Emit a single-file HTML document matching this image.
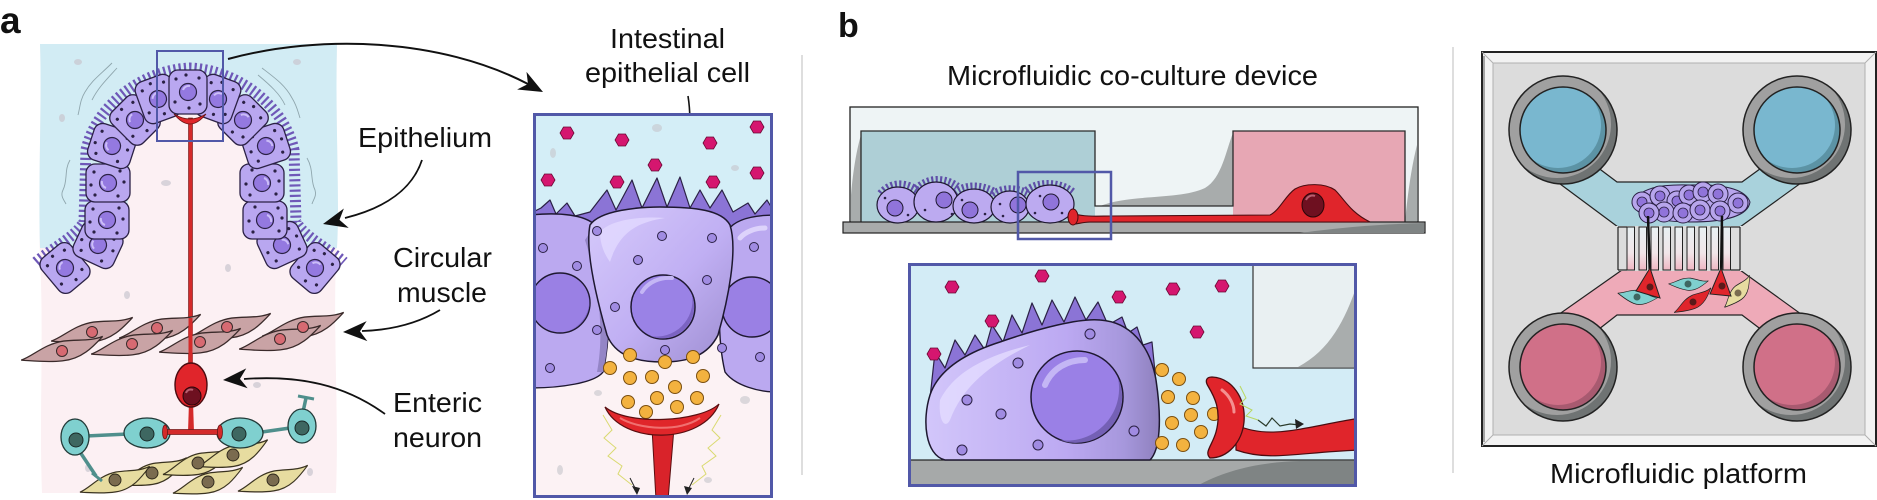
<!DOCTYPE html>
<html><head><meta charset="utf-8"><style>
html,body{margin:0;padding:0;background:#fff;width:1877px;height:500px;overflow:hidden}
svg{display:block}
text{font-family:"Liberation Sans",Arial,sans-serif;fill:#111}
</style></head><body>
<svg width="1877" height="500" viewBox="0 0 1877 500" xmlns="http://www.w3.org/2000/svg">
<defs>
 <path id="spindle" d="M -42,7 C -30,4 -18,-7 2,-9 C 18,-10 30,-8 42,-12 C 32,-3 20,8 0,9 C -16,10 -30,8 -42,7 Z"/>
 <path id="ah" d="M 0,0 L -24,-10 L -17,0 L -24,10 Z"/>
 <polygon id="hex" points="7,0 3.5,6 -3.5,6 -7,0 -3.5,-6 3.5,-6" fill="#d5166f" stroke="#6a0a35" stroke-width="0.8"/>
 <circle id="odot" r="6.5" fill="#f3b23f" stroke="#7a4f10" stroke-width="1"/>
 <g id="ecell">
  <rect x="-19" y="-22" width="38" height="44" rx="9" fill="#b9a7f0" stroke="#2b2145" stroke-width="1.3"/>
  <circle r="8.5" fill="#9479e0" stroke="#2b2145" stroke-width="1.2"/>
  <path d="M -5,-2 A 6 6 0 0 1 2,-6" stroke="#cbbdf8" stroke-width="2" fill="none"/>
  <g fill="#2b2145"><circle cx="-12" cy="-13" r="1.6"/><circle cx="11" cy="-14" r="1.6"/><circle cx="-13" cy="10" r="1.6"/><circle cx="12" cy="12" r="1.6"/><circle cx="1" cy="16" r="1.6"/><circle cx="-2" cy="-17" r="1.6"/></g>
 </g>
 <g id="pcell"><circle r="10" fill="#b7a5ec" stroke="#2b2145" stroke-width="1"/><circle r="5" fill="#9074da" stroke="#2b2145" stroke-width="0.8"/></g>
 <clipPath id="clipA"><rect x="533" y="113" width="240" height="385"/></clipPath>
 <clipPath id="clipB"><rect x="908" y="263" width="449" height="224"/></clipPath>
 <clipPath id="wc"><circle r="54"/></clipPath>
 <clipPath id="wi"><circle r="43"/></clipPath>
 <linearGradient id="cellB" x1="0" y1="0" x2="1" y2="0">
  <stop offset="0" stop-color="#d2c6fa"/><stop offset="0.6" stop-color="#bca9f2"/><stop offset="0.85" stop-color="#a697dc"/><stop offset="1" stop-color="#8e80bd"/>
 </linearGradient>
 <linearGradient id="cellA" x1="0" y1="0" x2="1" y2="1">
  <stop offset="0" stop-color="#d6cafb"/><stop offset="0.55" stop-color="#c0aff3"/><stop offset="1" stop-color="#9d8dd0"/>
 </linearGradient>
 <linearGradient id="slot" x1="0" y1="0" x2="0" y2="1">
  <stop offset="0" stop-color="#e8f1f3"/><stop offset="0.6" stop-color="#f1e6e9"/><stop offset="1" stop-color="#efb7c3"/>
 </linearGradient>
</defs>

<!-- ================= PANEL A ================= -->
<text x="0" y="33" font-size="37" font-weight="bold">a</text>

<path d="M 40,44 L 337,44 C 335,120 340,200 336,260 C 333,330 339,420 336,493 L 42,493 C 39,420 44,330 40,260 C 38,180 42,100 40,44 Z" fill="#fcf0f3"/>
<path d="M 40,44 L 337,44 C 335,120 340,200 337,248 L 40,248 C 38,180 42,100 40,44 Z" fill="#d2ecf4"/>
<path d="M 70,282 C 105,262 125,240 128,200 L 130,150 C 135,124 160,112 190,112 C 220,112 245,124 250,150 L 252,200 C 255,240 275,262 310,282 Z" fill="#fcf0f3"/>

<g fill="#c9c6cf" opacity="0.7">
 <ellipse cx="78" cy="62" rx="4" ry="3"/><ellipse cx="297" cy="62" rx="4" ry="3"/><ellipse cx="62" cy="118" rx="3" ry="4"/>
 <ellipse cx="166" cy="183" rx="5" ry="3"/><ellipse cx="228" cy="268" rx="3" ry="4"/><ellipse cx="127" cy="295" rx="3" ry="4"/>
 <ellipse cx="88" cy="468" rx="3" ry="4"/><ellipse cx="310" cy="472" rx="3" ry="4"/><ellipse cx="257" cy="385" rx="4" ry="3"/>
</g>
<g fill="none" stroke="#8fa6ad" stroke-width="0.9">
 <path d="M 112,63 C 100,75 92,80 85,92 C 80,100 80,108 78,115"/><path d="M 117,68 C 106,80 98,88 92,100"/>
 <path d="M 262,68 C 275,78 285,85 292,98 C 297,106 298,112 300,118"/><path d="M 258,75 C 270,85 280,94 285,105"/>
 <path d="M 70,160 C 64,170 68,180 63,190 C 60,196 64,200 66,204"/>
 <path d="M 307,158 C 314,170 310,180 315,190 C 317,196 313,200 312,204"/>
</g>

<!-- epithelial arch spikes -->
<path d="M 36,262 C 52,248 74,238 84,222 L 86,150 C 95,108 140,70 190,68 C 240,70 285,108 294,150 L 296,222 C 306,238 328,248 344,262" stroke="#6f58b8" stroke-width="11" stroke-dasharray="2.2 3" fill="none"/>

<use href="#ecell" transform="translate(65,268) rotate(-40)"/>
<use href="#ecell" transform="translate(315,268) rotate(40)"/>
<use href="#ecell" transform="translate(98,245) rotate(-65)"/>
<use href="#ecell" transform="translate(282,245) rotate(65)"/>
<use href="#ecell" transform="translate(107,220) rotate(-90)"/>
<use href="#ecell" transform="translate(265,220) rotate(90)"/>
<use href="#ecell" transform="translate(108,183) rotate(-90)"/>
<use href="#ecell" transform="translate(262,183) rotate(90)"/>
<use href="#ecell" transform="translate(112,146) rotate(-72)"/>
<use href="#ecell" transform="translate(266,146) rotate(72)"/>
<use href="#ecell" transform="translate(135,120) rotate(-45)"/>
<use href="#ecell" transform="translate(243,120) rotate(45)"/>
<use href="#ecell" transform="translate(158,99) rotate(-20)"/>
<use href="#ecell" transform="translate(218,99) rotate(20)"/>
<use href="#ecell" transform="translate(188,92)"/>

<rect x="188.5" y="118" width="4" height="255" fill="#d42a2a" stroke="#6a1515" stroke-width="0.6"/>
<path d="M 174,114 Q 190,134 206,114 Q 190,124 174,114 Z" fill="#e0262a" stroke="#6a1515" stroke-width="0.8"/>

<!-- muscle layer -->
<g fill="#c9a3a5" stroke="#3a2a2a" stroke-width="1.2">
 <use href="#spindle" transform="translate(92,332) rotate(-2) scale(0.98,1.1)"/>
 <use href="#spindle" transform="translate(160,329) rotate(-2) scale(0.98,1.1)"/>
 <use href="#spindle" transform="translate(230,328) rotate(-2) scale(0.98,1.1)"/>
 <use href="#spindle" transform="translate(303,327) rotate(-2) scale(0.98,1.1)"/>
 <use href="#spindle" transform="translate(62,351) rotate(-2) scale(0.98,1.1)"/>
 <use href="#spindle" transform="translate(132,345) rotate(-2) scale(0.98,1.1)"/>
 <use href="#spindle" transform="translate(200,343) rotate(-2) scale(0.98,1.1)"/>
 <use href="#spindle" transform="translate(280,340) rotate(-2) scale(0.98,1.1)"/>
</g>
<g fill="#d76a72" stroke="#3a2a2a" stroke-width="1">
 <circle cx="92" cy="332" r="5.5"/><circle cx="157" cy="328" r="5.5"/><circle cx="227" cy="327" r="5.5"/><circle cx="303" cy="327" r="5.5"/>
 <circle cx="62" cy="351" r="5.5"/><circle cx="132" cy="344" r="5.5"/><circle cx="200" cy="342" r="5.5"/><circle cx="280" cy="339" r="5.5"/>
</g>
<rect x="188.5" y="318" width="4" height="50" fill="#d42a2a"/>

<!-- yellow cells -->
<g fill="#e7dca0" stroke="#3a3320" stroke-width="1.1">
 <use href="#spindle" transform="translate(152,474) rotate(-4) scale(0.85,1.15)"/>
 <use href="#spindle" transform="translate(198,464) rotate(-4) scale(0.85,1.15)"/>
 <use href="#spindle" transform="translate(233,456) rotate(-4) scale(0.85,1.15)"/>
 <use href="#spindle" transform="translate(115,482) rotate(-4) scale(0.85,1.1)"/>
 <use href="#spindle" transform="translate(208,483) rotate(-4) scale(0.85,1.1)"/>
 <use href="#spindle" transform="translate(273,481) rotate(-4) scale(0.85,1.1)"/>
</g>
<g fill="#7a6b4f" stroke="#2a2418" stroke-width="0.9">
 <circle cx="152" cy="473" r="6"/><circle cx="198" cy="463" r="6"/><circle cx="233" cy="455" r="6"/><circle cx="115" cy="480" r="6"/><circle cx="208" cy="482" r="6"/><circle cx="273" cy="480" r="6"/>
</g>

<!-- teal glia -->
<g stroke="#2d5553" stroke-width="1">
 <path d="M 86,436 L 128,434" stroke="#4f8f8c" stroke-width="3.5"/>
 <path d="M 80,452 L 96,476" stroke="#4f8f8c" stroke-width="3.5"/>
 <path d="M 262,432 L 290,428" stroke="#4f8f8c" stroke-width="3.5"/>
 <path d="M 303,412 L 306,398" stroke="#4f8f8c" stroke-width="3.5"/>
 <path d="M 298,396 L 314,399" stroke="#4f8f8c" stroke-width="3"/>
 <path d="M 92,473 L 102,481" stroke="#4f8f8c" stroke-width="3"/>
</g>
<g fill="#7fd0cf" stroke="#223a38" stroke-width="1.3">
 <ellipse cx="75" cy="437" rx="14" ry="18"/>
 <ellipse cx="147" cy="433" rx="23" ry="15"/>
 <ellipse cx="240" cy="433" rx="23" ry="15"/>
 <ellipse cx="302" cy="426" rx="14" ry="17"/>
</g>
<g fill="#3e6761" stroke="#1a2a28" stroke-width="1">
 <circle cx="76" cy="440" r="7"/><circle cx="147" cy="434" r="7"/><circle cx="239" cy="434" r="7"/><circle cx="302" cy="428" r="7"/>
</g>

<!-- enteric neuron -->
<path d="M 189,402 L 188,432 L 194,432 L 193,402 Z" fill="#d42a2a"/>
<rect x="165" y="429.5" width="56" height="5" fill="#d42a2a" stroke="#6a1515" stroke-width="0.7"/>
<ellipse cx="165" cy="432" rx="2.5" ry="7" fill="#d42a2a" stroke="#6a1515" stroke-width="0.8"/>
<ellipse cx="220" cy="432" rx="2.5" ry="7" fill="#d42a2a" stroke="#6a1515" stroke-width="0.8"/>
<ellipse cx="191" cy="385" rx="16" ry="22" fill="#e0252b" stroke="#4a0c10" stroke-width="1.4"/>
<circle cx="192" cy="396" r="9" fill="#6e1020" stroke="#2a0508" stroke-width="1"/>
<path d="M 186,393 A 5 5 0 0 1 193,390" stroke="#b86070" stroke-width="2" fill="none"/>
<rect x="157" y="51" width="66" height="90" fill="none" stroke="#5158a8" stroke-width="2"/>

<!-- arrows panel a -->
<g fill="none" stroke="#111">
 <path d="M 228,59 C 320,34 440,38 528,84" stroke-width="2"/>
 <path d="M 422,160 C 412,190 385,208 345,218" stroke-width="1.8"/>
 <path d="M 440,310 C 420,322 395,330 362,331" stroke-width="1.8"/>
 <path d="M 385,414 C 345,385 300,375 244,379" stroke-width="1.8"/>
 <path d="M 688,96 C 691,115 690,135 686,152" stroke-width="1.6"/>
</g>
<g fill="#111">
 <use href="#ah" transform="translate(543,92) rotate(28)"/>
 <use href="#ah" transform="translate(323,224) rotate(166)"/>
 <use href="#ah" transform="translate(343,332) rotate(178)"/>
 <use href="#ah" transform="translate(223,380) rotate(176)"/>
 <use href="#ah" transform="translate(685,170) rotate(95)"/>
</g>

<text x="358" y="147" font-size="28" textLength="134" lengthAdjust="spacingAndGlyphs">Epithelium</text>
<text x="393" y="267" font-size="28" textLength="99" lengthAdjust="spacingAndGlyphs">Circular</text>
<text x="397" y="302" font-size="28" textLength="90" lengthAdjust="spacingAndGlyphs">muscle</text>
<text x="393" y="412" font-size="28" textLength="89" lengthAdjust="spacingAndGlyphs">Enteric</text>
<text x="393" y="447" font-size="28" textLength="89" lengthAdjust="spacingAndGlyphs">neuron</text>
<text x="610" y="48" font-size="28" textLength="115" lengthAdjust="spacingAndGlyphs">Intestinal</text>
<text x="585" y="82" font-size="28" textLength="165" lengthAdjust="spacingAndGlyphs">epithelial cell</text>

<!-- ===== inset a ===== -->
<g clip-path="url(#clipA)">
 <rect x="533" y="113" width="240" height="385" fill="#fcf2f4"/>
 <rect x="533" y="113" width="240" height="120" fill="#d4eef7"/>
 <g fill="#c6c6cc" opacity="0.6"><ellipse cx="657" cy="128" rx="5" ry="4"/><ellipse cx="553" cy="153" rx="3" ry="5"/><ellipse cx="735" cy="168" rx="4" ry="3"/><ellipse cx="598" cy="393" rx="4" ry="3"/><ellipse cx="745" cy="400" rx="5" ry="4"/><ellipse cx="560" cy="470" rx="3" ry="5"/><ellipse cx="708" cy="480" rx="4" ry="3"/></g>
 <path d="M 533,232 L 533,212 L 541,208 L 550,200 L 556,214 L 567,203 L 575,216 L 590,212 L 607,190 L 616,210 L 632,180 L 642,208 L 657,178 L 667,207 L 680,177 L 690,208 L 700,190 L 710,208 L 722,190 L 733,212 L 748,203 L 755,214 L 767,200 L 773,210 L 773,232 Z" fill="#8b74d6" stroke="#2b2145" stroke-width="1.2" stroke-linejoin="round"/>
 <path d="M 530,215 C 560,212 585,215 595,225 C 605,260 615,320 603,372 C 595,383 560,388 530,388 Z" fill="#bba9f0" stroke="#1e1830" stroke-width="1.4"/>
 <path d="M 585,240 C 598,280 605,330 597,372 L 603,372 C 615,320 605,260 595,225 Z" fill="#9485c6"/>
 <circle cx="560" cy="303" r="30" fill="#9a80e4" stroke="#1e1830" stroke-width="1.4"/>
 <path d="M 565,332 A 30 30 0 0 0 589,297 A 32 32 0 0 1 565,332 Z" fill="#7b63c2"/>
 <path d="M 776,215 C 750,215 735,220 728,230 C 720,270 715,330 725,372 C 735,386 760,392 776,392 Z" fill="#bba9f0" stroke="#1e1830" stroke-width="1.4"/>
 <circle cx="752" cy="307" r="30" fill="#9a80e4" stroke="#1e1830" stroke-width="1.4"/>
 <path d="M 740,238 C 745,232 755,228 765,228" stroke="#ddd3fb" stroke-width="5" fill="none" stroke-linecap="round"/>
 <path d="M 590,225 C 600,210 640,207 660,207 C 695,207 722,210 730,225 C 738,250 728,300 718,335 C 708,355 690,362 662,362 C 635,362 615,355 607,335 C 597,300 585,250 590,225 Z" fill="url(#cellA)" stroke="#1e1830" stroke-width="1.5"/>
 <path d="M 600,232 C 610,220 640,216 665,218 C 640,222 620,230 610,262 C 605,255 600,245 600,232 Z" fill="#e2daff" opacity="0.8"/>
 <circle cx="663" cy="307" r="32" fill="#9a82e6" stroke="#1e1830" stroke-width="1.5"/>
 <path d="M 650,336 A 32 32 0 0 0 692,295 A 36 36 0 0 1 650,336 Z" fill="#7b63c2"/>
 <path d="M 642,292 C 648,282 660,277 672,278" stroke="#c4b6f5" stroke-width="4" fill="none" stroke-linecap="round"/>
 <g fill="#a08be2" stroke="#2b2145" stroke-width="1">
  <circle cx="597" cy="231" r="4.5"/><circle cx="662" cy="236" r="4.5"/><circle cx="712" cy="238" r="4.5"/><circle cx="638" cy="260" r="4.5"/>
  <circle cx="707" cy="280" r="4.5"/><circle cx="615" cy="307" r="4.5"/><circle cx="597" cy="330" r="4.5"/><circle cx="665" cy="350" r="4.5"/>
  <circle cx="543" cy="248" r="4.5"/><circle cx="577" cy="266" r="4.5"/><circle cx="550" cy="368" r="4.5"/><circle cx="722" cy="348" r="4.5"/>
  <circle cx="754" cy="247" r="4.5"/><circle cx="760" cy="357" r="4.5"/>
 </g>
 <use href="#odot" x="630" y="355"/><use href="#odot" x="665" y="362"/><use href="#odot" x="693" y="357"/>
 <use href="#odot" x="610" y="368"/><use href="#odot" x="630" y="378"/><use href="#odot" x="652" y="377"/>
 <use href="#odot" x="675" y="387"/><use href="#odot" x="703" y="376"/><use href="#odot" x="628" y="402"/>
 <use href="#odot" x="657" y="398"/><use href="#odot" x="677" y="407"/><use href="#odot" x="697" y="398"/><use href="#odot" x="646" y="412"/>
 <path d="M 652,428 L 674,428 L 668,500 L 656,500 Z" fill="#d9232a" stroke="#5a0e10" stroke-width="1"/>
 <path d="M 605,407 C 622,445 702,445 719,404 C 700,422 628,426 605,407 Z" fill="#e0262a" stroke="#5a0e10" stroke-width="1.2"/>
 <path d="M 620,418 C 640,430 680,432 700,418" stroke="#f07070" stroke-width="2" fill="none"/>
 <g fill="none" stroke="#dada70" stroke-width="1">
  <path d="M 603,415 L 612,430 L 604,438 L 616,448 L 608,456 L 622,466 L 618,474 L 632,485"/>
  <path d="M 721,415 L 712,430 L 720,438 L 708,448 L 716,456 L 702,466 L 706,474 L 692,485"/>
 </g>
 <path d="M 630,478 L 637,492" stroke="#222" stroke-width="1" fill="none"/>
 <path d="M 694,478 L 687,492" stroke="#222" stroke-width="1" fill="none"/>
 <path d="M 637,495 L 632,486 L 640,488 Z" fill="#222"/>
 <path d="M 687,495 L 684,486 L 692,488 Z" fill="#222"/>
 <use href="#hex" x="567" y="133"/><use href="#hex" x="622" y="140"/><use href="#hex" x="710" y="143"/>
 <use href="#hex" x="757" y="127"/><use href="#hex" x="548" y="180"/><use href="#hex" x="617" y="182"/>
 <use href="#hex" x="655" y="165"/><use href="#hex" x="713" y="182"/><use href="#hex" x="757" y="173"/>
</g>
<rect x="534.5" y="114.5" width="237" height="382" fill="none" stroke="#5158a8" stroke-width="3"/>

<line x1="802" y1="55" x2="802" y2="475" stroke="#d4d4d4" stroke-width="1.5"/>
<line x1="1453" y1="47" x2="1453" y2="473" stroke="#d4d4d4" stroke-width="1.5"/>

<!-- ================= PANEL B ================= -->
<text x="838" y="37" font-size="34" font-weight="bold">b</text>
<text x="947" y="85" font-size="28" textLength="371" lengthAdjust="spacingAndGlyphs">Microfluidic co-culture device</text>

<rect x="850" y="107" width="568" height="115" fill="#eef4f5" stroke="#222" stroke-width="1.3"/>
<path d="M 851,222 L 851,195 C 853,170 857,148 861,135 L 861,222 Z" fill="#a8acac"/>
<path d="M 1417,222 L 1417,145 C 1412,165 1408,190 1405,222 Z" fill="#a8acac"/>
<path d="M 1100,206 C 1130,194 1180,200 1205,188 C 1222,178 1226,150 1233,133 L 1233,206 Z" fill="#a8acac"/>
<rect x="861" y="131" width="234" height="91" fill="#aecfd6"/>
<rect x="1095" y="206" width="138" height="16" fill="#e3ecef"/>
<rect x="1233" y="131" width="172" height="91" fill="#e7a7b4"/>
<path d="M 861,222 L 861,131 L 1095,131 L 1095,206 L 1233,206 L 1233,131 L 1405,131 L 1405,222" fill="none" stroke="#2a2a2a" stroke-width="1.3"/>
<rect x="843" y="222" width="582" height="11" fill="#a9abab" stroke="#222" stroke-width="1.2"/>
<path d="M 1300,233 C 1350,226 1390,224 1424,223 L 1424,233 Z" fill="#7f8484"/>

<g fill="none" stroke="#5f4ea8" stroke-width="9" stroke-dasharray="2 2.2">
 <path d="M 881,194 C 890,183 905,182 917,191"/>
 <path d="M 917,189 C 928,178 945,178 957,187"/>
 <path d="M 955,193 C 965,185 982,185 995,193"/>
 <path d="M 993,195 C 1002,188 1018,188 1029,195"/>
 <path d="M 1027,191 C 1038,182 1060,182 1073,193"/>
</g>
<g fill="#bcaaf0" stroke="#1e1830" stroke-width="1.2">
 <ellipse cx="898" cy="205" rx="21" ry="18"/>
 <ellipse cx="936" cy="202" rx="22" ry="20"/>
 <ellipse cx="974" cy="206" rx="21" ry="17"/>
 <ellipse cx="1010" cy="207" rx="19" ry="16"/>
 <ellipse cx="1050" cy="204" rx="24" ry="19"/>
</g>
<g fill="#9074da" stroke="#1e1830" stroke-width="1">
 <circle cx="895" cy="208" r="8"/><circle cx="944" cy="200" r="8"/><circle cx="970" cy="210" r="8"/><circle cx="1018" cy="205" r="8"/><circle cx="1051" cy="202" r="8"/>
</g>
<g fill="#2b2145">
 <circle cx="885" cy="198" r="1.3"/><circle cx="908" cy="215" r="1.3"/><circle cx="925" cy="210" r="1.3"/><circle cx="952" cy="214" r="1.3"/>
 <circle cx="962" cy="200" r="1.3"/><circle cx="985" cy="214" r="1.3"/><circle cx="1000" cy="204" r="1.3"/><circle cx="1003" cy="216" r="1.3"/>
 <circle cx="1035" cy="213" r="1.3"/><circle cx="1062" cy="213" r="1.3"/><circle cx="1040" cy="196" r="1.3"/>
</g>
<path d="M 1075,214 C 1085,217 1100,216 1110,216 L 1270,215 C 1280,210 1285,196 1295,189 C 1305,183 1325,183 1335,190 C 1345,200 1350,212 1370,222 L 1090,222 C 1083,222 1078,224 1075,224 Z" fill="#e0252b" stroke="#4a0c10" stroke-width="1.1"/>
<ellipse cx="1073" cy="217" rx="5" ry="8" fill="#e0252b" stroke="#4a0c10" stroke-width="1"/>
<ellipse cx="1313" cy="205" rx="11" ry="12" fill="#6e1020" stroke="#2a0508" stroke-width="1"/>
<path d="M 1306,200 A 7 7 0 0 1 1315,196" stroke="#b86070" stroke-width="2" fill="none"/>
<rect x="1018" y="172" width="93" height="67" fill="none" stroke="#5158a8" stroke-width="2.5"/>

<!-- ===== inset b ===== -->
<g clip-path="url(#clipB)">
 <rect x="908" y="263" width="449" height="224" fill="#d3ecf6"/>
 <rect x="1253" y="262" width="105" height="106" fill="#e9f0f2" stroke="#333" stroke-width="1.2"/>
 <path d="M 1357,285 C 1345,320 1330,350 1298,367 L 1357,367 Z" fill="#a9adad"/>
 <rect x="907" y="460" width="451" height="28" fill="#a6a9a9" stroke="#222" stroke-width="1.2"/>
 <path d="M 1195,487 C 1225,470 1260,462 1300,461 L 1357,461 L 1357,487 Z" fill="#7f8484"/>
 <path d="M 930,398 L 935,352 L 945,368 L 955,340 L 965,355 L 975,335 L 985,350 L 992,325 L 1003,342 L 1012,315 L 1022,333 L 1032,303 L 1042,325 L 1052,300 L 1064,322 L 1075,297 L 1086,320 L 1098,302 L 1108,325 L 1122,317 L 1128,333 L 1137,327 L 1143,345 L 1152,342 L 1156,382 Z" fill="#8b74d6" stroke="#2b2145" stroke-width="1.2" stroke-linejoin="round"/>
 <path d="M 945,460 C 925,455 922,420 930,395 C 940,365 975,350 1000,342 C 1040,328 1080,318 1100,320 C 1130,322 1150,345 1156,380 C 1162,420 1160,450 1150,460 Z" fill="url(#cellB)" stroke="#1e1830" stroke-width="1.5"/>
 <path d="M 940,400 C 955,370 990,355 1030,345 C 1000,360 965,380 950,420 C 945,430 938,420 940,400 Z" fill="#e3dcff" opacity="0.8"/>
 <circle cx="1077" cy="397" r="46" fill="#9a80e6" stroke="#1e1830" stroke-width="1.5"/>
 <path d="M 1060,440 A 46 46 0 0 0 1118,378 A 52 52 0 0 1 1060,440 Z" fill="#7460b5"/>
 <path d="M 1045,385 C 1052,368 1068,360 1085,360" stroke="#c4b6f5" stroke-width="6" fill="none" stroke-linecap="round"/>
 <g fill="#a08be2" stroke="#2b2145" stroke-width="1">
  <circle cx="1090" cy="334" r="5"/><circle cx="1018" cy="363" r="5"/><circle cx="967" cy="400" r="5"/><circle cx="1001" cy="414" r="5"/>
  <circle cx="1038" cy="445" r="5"/><circle cx="962" cy="450" r="5"/><circle cx="1134" cy="431" r="5"/>
 </g>
 <use href="#odot" x="1162" y="370"/><use href="#odot" x="1179" y="379"/><use href="#odot" x="1168" y="397"/>
 <use href="#odot" x="1193" y="398"/><use href="#odot" x="1191" y="415"/><use href="#odot" x="1172" y="423"/>
 <use href="#odot" x="1201" y="432"/><use href="#odot" x="1214" y="414"/><use href="#odot" x="1162" y="443"/><use href="#odot" x="1183" y="445"/>
 <path d="M 1236,425 C 1270,440 1300,428 1360,418 L 1360,450 C 1300,452 1270,462 1236,450 Z" fill="#e0252b" stroke="#4a0c10" stroke-width="1.2"/>
 <path d="M 1212,377 C 1232,378 1246,398 1244,422 C 1242,442 1228,458 1210,458 C 1204,452 1212,446 1216,432 C 1222,410 1214,396 1208,386 C 1205,381 1206,377 1212,377 Z" fill="#e0252b" stroke="#4a0c10" stroke-width="1.3"/>
 <path d="M 1222,390 C 1230,396 1234,405 1234,412" stroke="#f49090" stroke-width="3" fill="none" stroke-linecap="round"/>
 <path d="M 1240,386 L 1246,398 L 1240,404 L 1252,410 L 1246,416 L 1258,420" fill="none" stroke="#b8d860" stroke-width="1"/>
 <path d="M 1258,420 L 1266,426 L 1272,418 L 1280,426 L 1290,424 L 1300,425" fill="none" stroke="#2a3a2a" stroke-width="1.2"/>
 <path d="M 1304,424 L 1295,419 L 1296,429 Z" fill="#222"/>
 <use href="#hex" x="952" y="287"/><use href="#hex" x="1042" y="276"/><use href="#hex" x="1119" y="297"/>
 <use href="#hex" x="1173" y="289"/><use href="#hex" x="1222" y="286"/><use href="#hex" x="992" y="321"/>
 <use href="#hex" x="1197" y="332"/><use href="#hex" x="934" y="354"/>
</g>
<rect x="909.5" y="264.5" width="446" height="221" fill="none" stroke="#5158a8" stroke-width="3"/>

<!-- ===== platform ===== -->
<rect x="1482" y="52" width="394" height="394" fill="#f2f2f2" stroke="#222" stroke-width="2"/>
<rect x="1493" y="63" width="372" height="372" fill="#dcdcdc" stroke="#b0b0b0" stroke-width="1"/>
<g stroke="#b0b0b0" stroke-width="1"><line x1="1482" y1="52" x2="1493" y2="63"/><line x1="1876" y1="52" x2="1865" y2="63"/><line x1="1482" y1="446" x2="1493" y2="435"/><line x1="1876" y1="446" x2="1865" y2="435"/></g>
<line x1="1484" y1="56" x2="1484" y2="442" stroke="#8a8a8a" stroke-width="1.5"/>

<polygon points="1548,175 1618,227 1740,227 1812,175 1775,158 1742,182 1617,182 1585,158" fill="#a9d2dc" stroke="#222" stroke-width="1.2"/>
<polygon points="1622,270 1740,270 1812,322 1775,340 1742,315 1617,315 1585,340 1548,322" fill="#eeaab8" stroke="#222" stroke-width="1.2"/>
<rect x="1616" y="226" width="128" height="45" fill="#dcdcdc"/>
<g fill="url(#slot)" stroke="#222" stroke-width="1">
 <rect x="1627" y="227" width="7.5" height="43"/><rect x="1639" y="227" width="7.5" height="43"/><rect x="1651" y="227" width="7.5" height="43"/>
 <rect x="1663" y="227" width="7.5" height="43"/><rect x="1675" y="227" width="7.5" height="43"/><rect x="1687" y="227" width="7.5" height="43"/>
 <rect x="1699" y="227" width="7.5" height="43"/><rect x="1711" y="227" width="7.5" height="43"/><rect x="1723" y="227" width="7.5" height="43"/>
</g>
<g stroke="#222" stroke-width="1.2"><line x1="1618" y1="227" x2="1627" y2="227"/><line x1="1731" y1="227" x2="1740" y2="227"/><line x1="1618" y1="270" x2="1627" y2="270"/><line x1="1731" y1="270" x2="1740" y2="270"/><line x1="1618" y1="227" x2="1618" y2="270"/><line x1="1740" y1="227" x2="1740" y2="270"/></g>

<g transform="translate(1563,130)">
 <g clip-path="url(#wc)"><circle r="54" fill="#6f7373"/><circle cx="-6" cy="-6" r="54" fill="#a0a0a0"/></g>
 <circle r="54" fill="none" stroke="#222" stroke-width="1.5"/>
 <g clip-path="url(#wi)"><circle r="43" fill="#5c93a5"/><circle cx="-5" cy="-5" r="43" fill="#79b7cf"/></g>
 <circle r="43" fill="none" stroke="#222" stroke-width="1.5"/>
</g>
<g transform="translate(1797,130)">
 <g clip-path="url(#wc)"><circle r="54" fill="#6f7373"/><circle cx="-6" cy="-6" r="54" fill="#a0a0a0"/></g>
 <circle r="54" fill="none" stroke="#222" stroke-width="1.5"/>
 <g clip-path="url(#wi)"><circle r="43" fill="#5c93a5"/><circle cx="-5" cy="-5" r="43" fill="#79b7cf"/></g>
 <circle r="43" fill="none" stroke="#222" stroke-width="1.5"/>
</g>
<g transform="translate(1563,367)">
 <g clip-path="url(#wc)"><circle r="54" fill="#6f7373"/><circle cx="-6" cy="-6" r="54" fill="#a0a0a0"/></g>
 <circle r="54" fill="none" stroke="#222" stroke-width="1.5"/>
 <g clip-path="url(#wi)"><circle r="43" fill="#a85a70"/><circle cx="-5" cy="-5" r="43" fill="#d07088"/></g>
 <circle r="43" fill="none" stroke="#222" stroke-width="1.5"/>
</g>
<g transform="translate(1797,367)">
 <g clip-path="url(#wc)"><circle r="54" fill="#6f7373"/><circle cx="-6" cy="-6" r="54" fill="#a0a0a0"/></g>
 <circle r="54" fill="none" stroke="#222" stroke-width="1.5"/>
 <g clip-path="url(#wi)"><circle r="43" fill="#a85a70"/><circle cx="-5" cy="-5" r="43" fill="#d07088"/></g>
 <circle r="43" fill="none" stroke="#222" stroke-width="1.5"/>
</g>

<path d="M 1632,203 C 1640,188 1660,184 1690,185 C 1720,184 1745,188 1750,202 C 1748,216 1725,222 1690,222 C 1660,222 1635,216 1632,203 Z" fill="#b7a5ec" stroke="#2b2145" stroke-width="1"/>
<use href="#pcell" x="1642" y="202"/><use href="#pcell" x="1660" y="196"/><use href="#pcell" x="1677" y="201"/>
<use href="#pcell" x="1689" y="195"/><use href="#pcell" x="1703" y="192"/><use href="#pcell" x="1718" y="194"/>
<use href="#pcell" x="1738" y="203"/><use href="#pcell" x="1664" y="212"/><use href="#pcell" x="1683" y="213"/>
<use href="#pcell" x="1700" y="210"/><use href="#pcell" x="1720" y="211"/><use href="#pcell" x="1649" y="213"/>
<g stroke="#111" stroke-width="2.5"><line x1="1648" y1="216" x2="1650" y2="278"/><line x1="1722" y1="216" x2="1721" y2="278"/></g>
<g stroke="#222" stroke-width="1">
 <g fill="#7fd0cf"><use href="#spindle" transform="translate(1637,297) rotate(28) scale(0.45,0.8)"/><use href="#spindle" transform="translate(1688,284) rotate(15) scale(0.45,0.7)"/></g>
 <g fill="#e0252b"><use href="#spindle" transform="translate(1693,302) rotate(-15) scale(0.5,0.75)"/></g>
 <g fill="#e7dca0"><use href="#spindle" transform="translate(1738,293) rotate(-30) scale(0.45,0.8)"/></g>
 <polygon points="1650,268 1660,298 1636,291" fill="#e0252b"/>
 <polygon points="1721,268 1731,296 1710,294" fill="#e0252b"/>
</g>
<g fill="#5a1a1a"><circle cx="1650" cy="287" r="3.5"/><circle cx="1722" cy="286" r="3.5"/><circle cx="1693" cy="302" r="3.5"/></g>
<g fill="#3e6761"><circle cx="1637" cy="297" r="3.5"/><circle cx="1688" cy="284" r="3.5"/></g>
<circle cx="1738" cy="293" r="3.5" fill="#7a6b4f"/>

<text x="1550" y="483" font-size="28" textLength="257" lengthAdjust="spacingAndGlyphs">Microfluidic platform</text>
</svg>
</body></html>
